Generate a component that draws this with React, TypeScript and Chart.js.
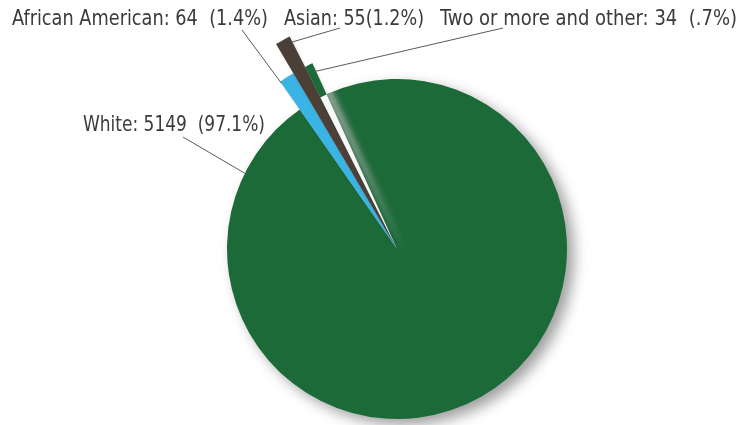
import React, { useEffect, useRef } from "react";
import { Chart, registerables } from "chart.js";

Chart.register(...registerables);

const categories = ["White", "African American", "Asian", "Two or more and other"];
const counts = [5149, 64, 55, 34];
const labelTexts = [
  "White: 5149  (97.1%)",
  "African American: 64  (1.4%)",
  "Asian: 55(1.2%)",
  "Two or more and other: 34  (.7%)",
];
const sliceColors = ["#1d6a39", "#3ab4e5", "#4b3f37", "#1d6a39"];
// how far each slice sticks out beyond the main radius (px)
const sliceExtra = [0, 34, 68, 34];
const pieRadius = 170;
const gapColor = "#f8f8f8";

// label layout: [x, baseline, maxWidth]
const labelPos: [number, number, number][] = [
  [83, 131, 182],
  [12, 25, 256],
  [284, 25, 140],
  [440, 25, 297],
];
// leader line start (text side)
const leaderStart: [number, number][] = [
  [183, 137],
  [242, 30],
  [340, 28],
  [503, 28],
];

function arcPoint(el: any, frac: number, rDelta: number): [number, number] {
  const p = el.getProps(["x", "y", "startAngle", "endAngle", "outerRadius"], true);
  const R = p.outerRadius + rDelta;
  const a = p.startAngle + frac * (p.endAngle - p.startAngle);
  return [p.x + Math.cos(a) * R, p.y + Math.sin(a) * R];
}

const shadowPlugin = {
  id: "shadowDraw",
  afterDatasetsUpdate(chart: any) {
    const meta = chart.getDatasetMeta(0);
    meta.data.forEach((el: any, i: number) => {
      el.outerRadius = el.outerRadius + sliceExtra[i];
    });
  },
  beforeDatasetDraw(chart: any, args: any) {
    const ctx = chart.ctx;
    const els = args.meta.data;
    // main slice with soft drop shadow
    ctx.save();
    ctx.shadowColor = "rgba(0,0,0,0.38)";
    ctx.shadowBlur = 14;
    ctx.shadowOffsetX = 7;
    ctx.shadowOffsetY = 6;
    els[0].draw(ctx);
    ctx.restore();
    // small exploded slices
    for (let i = 1; i < els.length; i++) {
      ctx.save();
      ctx.shadowColor = "rgba(0,0,0,0.15)";
      ctx.shadowBlur = 3;
      ctx.shadowOffsetX = 1;
      ctx.shadowOffsetY = 1;
      els[i].draw(ctx);
      ctx.restore();
    }
    // light gap where the last slice was pulled out of the main disc
    const last = els[els.length - 1];
    ctx.save();
    ctx.beginPath();
    ctx.arc(last.x, last.y, pieRadius, 0, Math.PI * 2);
    ctx.clip();
    ctx.shadowColor = "rgba(185,185,185,0.9)";
    ctx.shadowBlur = 6;
    ctx.shadowOffsetX = 7;
    ctx.shadowOffsetY = 1;
    const orig = last.options.backgroundColor;
    last.options.backgroundColor = gapColor;
    last.draw(ctx);
    last.options.backgroundColor = orig;
    ctx.restore();
    return false;
  },
  afterDraw(chart: any) {
    const ctx = chart.ctx;
    const meta = chart.getDatasetMeta(0);
    const anchors: [number, number][] = [
      arcPoint(meta.data[0], 0.918, 0),
      arcPoint(meta.data[1], 0.0, -2),
      arcPoint(meta.data[2], 1.0, -6),
      arcPoint(meta.data[3], 0.6, -8),
    ];
    ctx.save();
    ctx.strokeStyle = "#5a5a5a";
    ctx.lineWidth = 1;
    anchors.forEach((a, i) => {
      ctx.beginPath();
      ctx.moveTo(leaderStart[i][0], leaderStart[i][1]);
      ctx.lineTo(a[0], a[1]);
      ctx.stroke();
    });
    ctx.fillStyle = "#3b3b3b";
    ctx.font = '22px "Liberation Sans Narrow", "DejaVu Sans Condensed", sans-serif';
    ctx.textBaseline = "alphabetic";
    ctx.textAlign = "left";
    labelTexts.forEach((t, i) => {
      const [x, y, w] = labelPos[i];
      ctx.fillText(t, x, y, w);
    });
    ctx.restore();
  },
};

export default function App() {
  const ref = useRef<HTMLCanvasElement | null>(null);
  useEffect(() => {
    document.body.style.margin = "0";
    const canvas = ref.current;
    if (!canvas) return;
    const chart = new Chart(canvas, {
      type: "pie",
      data: {
        labels: categories,
        datasets: [
          {
            data: counts,
            backgroundColor: sliceColors,
            borderWidth: 0,
            radius: pieRadius,
          } as any,
        ],
      },
      options: {
        animation: false,
        responsive: false,
        maintainAspectRatio: false,
        devicePixelRatio: 1,
        rotation: 335.5,
        layout: { padding: { left: 55, right: 0, top: 73, bottom: 0 } },
        plugins: {
          legend: { display: false },
          tooltip: { enabled: false },
        },
      },
      plugins: [shadowPlugin],
    });
    return () => chart.destroy();
  }, []);
  return (
    <div style={{ position: "fixed", left: 0, top: 0, width: 739, height: 425, background: "#fff" }}>
      <canvas ref={ref} width={739} height={425} style={{ width: 739, height: 425, display: "block" }} />
    </div>
  );
}
